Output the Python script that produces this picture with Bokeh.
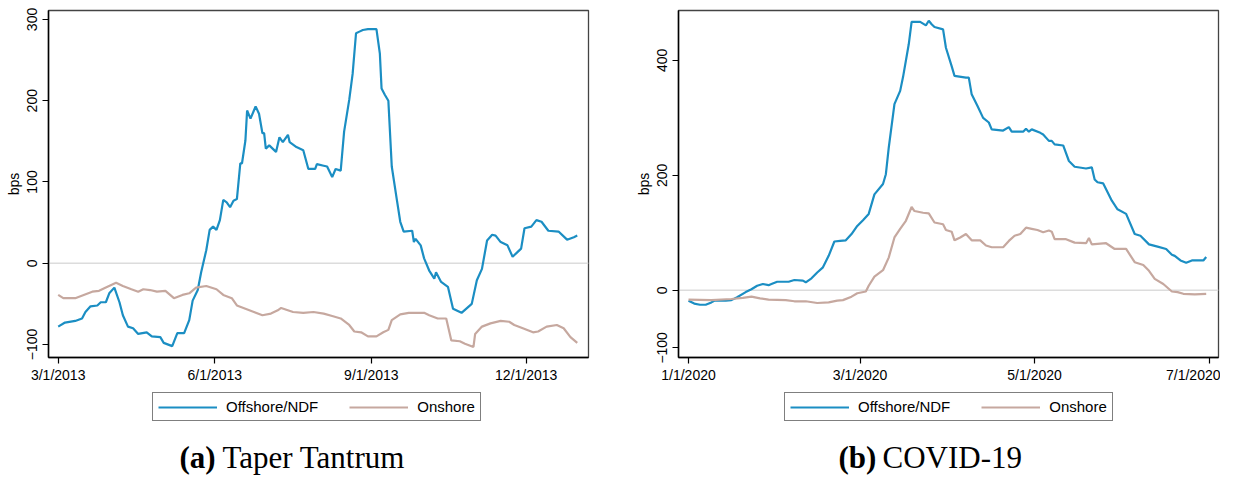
import pandas as pd
from bokeh.plotting import figure
from bokeh.models import Range1d, FixedTicker, Span, Legend, LegendItem, Label
from bokeh.layouts import row, column
from bokeh.embed import file_html
from bokeh.resources import INLINE

# ---------------- Data: Taper Tantrum (2013) ----------------
tt_off_dates = ["2013-03-01", "2013-03-05", "2013-03-11", "2013-03-15", "2013-03-17", "2013-03-20",
                "2013-03-24", "2013-03-26", "2013-03-29", "2013-03-31", "2013-04-03", "2013-04-06",
                "2013-04-08", "2013-04-11", "2013-04-14", "2013-04-17", "2013-04-22", "2013-04-25",
                "2013-04-30", "2013-05-02", "2013-05-07", "2013-05-10", "2013-05-14", "2013-05-17",
                "2013-05-19", "2013-05-22", "2013-05-24", "2013-05-27", "2013-05-29", "2013-05-31",
                "2013-06-02", "2013-06-04", "2013-06-06", "2013-06-08", "2013-06-10", "2013-06-12",
                "2013-06-14", "2013-06-16", "2013-06-17", "2013-06-19", "2013-06-20", "2013-06-22",
                "2013-06-24", "2013-06-25", "2013-06-27", "2013-06-29", "2013-06-30", "2013-07-01",
                "2013-07-03", "2013-07-07", "2013-07-09", "2013-07-11", "2013-07-14", "2013-07-15",
                "2013-07-19", "2013-07-23", "2013-07-26", "2013-07-30", "2013-07-31", "2013-08-04",
                "2013-08-06", "2013-08-09", "2013-08-11", "2013-08-14", "2013-08-16", "2013-08-19",
                "2013-08-21", "2013-08-23", "2013-08-25", "2013-08-27", "2013-08-30", "2013-09-04",
                "2013-09-06", "2013-09-07", "2013-09-09", "2013-09-11", "2013-09-13", "2013-09-16",
                "2013-09-18", "2013-09-20", "2013-09-25", "2013-09-26", "2013-09-27", "2013-09-30",
                "2013-10-02", "2013-10-05", "2013-10-08", "2013-10-09", "2013-10-12", "2013-10-16",
                "2013-10-19", "2013-10-24", "2013-10-30", "2013-11-02", "2013-11-05", "2013-11-08",
                "2013-11-11", "2013-11-13", "2013-11-16", "2013-11-20", "2013-11-23", "2013-11-26",
                "2013-11-28", "2013-11-30", "2013-12-04", "2013-12-07", "2013-12-10", "2013-12-14",
                "2013-12-20", "2013-12-25", "2013-12-29", "2013-12-31"]
tt_off_vals = [-78, -73, -71, -68, -60, -53,
               -52, -48, -48, -37, -30, -48,
               -64, -78, -80, -87, -85, -90,
               -91, -98, -102, -86, -86, -70,
               -46, -33, -11, 16, 41, 45,
               41, 53, 78, 75, 69, 77,
               79, 123, 123, 151, 188, 178,
               188, 193, 184, 160, 160, 141,
               145, 137, 155, 149, 158, 149,
               143, 139, 116, 116, 122, 120,
               119, 106, 116, 114, 162, 201,
               233, 283, 285, 287, 288, 288,
               258, 215, 207, 200, 119, 78,
               51, 39, 40, 26, 30, 22,
               6, -9, -19, -11, -23, -29,
               -56, -61, -50, -21, -7, 28,
               35, 34, 26, 22, 8, 14,
               18, 43, 45, 53, 51, 40,
               39, 29, 32, 34]

tt_on_dates = ["2013-03-01", "2013-03-04", "2013-03-11", "2013-03-16", "2013-03-21", "2013-03-25",
               "2013-03-29", "2013-04-04", "2013-04-08", "2013-04-13", "2013-04-17", "2013-04-20",
               "2013-04-24", "2013-04-28", "2013-05-03", "2013-05-08", "2013-05-13", "2013-05-17",
               "2013-05-21", "2013-05-27", "2013-06-02", "2013-06-06", "2013-06-11", "2013-06-14",
               "2013-06-19", "2013-06-24", "2013-06-29", "2013-07-04", "2013-07-08", "2013-07-10",
               "2013-07-17", "2013-07-23", "2013-07-29", "2013-08-04", "2013-08-09", "2013-08-14",
               "2013-08-19", "2013-08-22", "2013-08-26", "2013-08-30", "2013-09-04", "2013-09-08",
               "2013-09-11", "2013-09-13", "2013-09-18", "2013-09-23", "2013-10-02", "2013-10-05",
               "2013-10-10", "2013-10-15", "2013-10-18", "2013-10-23", "2013-10-26", "2013-10-31",
               "2013-11-01", "2013-11-05", "2013-11-10", "2013-11-16", "2013-11-21", "2013-11-24",
               "2013-11-29", "2013-12-05", "2013-12-08", "2013-12-13", "2013-12-19", "2013-12-23",
               "2013-12-27", "2013-12-31"]
tt_on_vals = [-39, -43, -43, -39, -35, -34,
              -30, -24, -28, -32, -35, -32,
              -33, -35, -34, -43, -39, -37,
              -30, -28, -32, -39, -43, -52,
              -56, -60, -64, -62, -58, -55,
              -60, -61, -60, -62, -65, -68,
              -76, -84, -85, -90, -90, -85,
              -82, -70, -63, -61, -61, -64,
              -68, -68, -95, -96, -99, -103,
              -87, -78, -74, -71, -72, -76,
              -80, -85, -84, -78, -76, -80,
              -91, -98]

# ---------------- Data: COVID-19 (2020) ----------------
cv_off_dates = ["2020-01-01", "2020-01-03", "2020-01-05", "2020-01-07", "2020-01-09", "2020-01-10",
                "2020-01-14", "2020-01-16", "2020-01-18", "2020-01-21", "2020-01-23", "2020-01-25",
                "2020-01-27", "2020-01-29", "2020-01-30", "2020-02-01", "2020-02-05", "2020-02-07",
                "2020-02-10", "2020-02-11", "2020-02-13", "2020-02-15", "2020-02-17", "2020-02-19",
                "2020-02-21", "2020-02-23", "2020-02-25", "2020-02-27", "2020-02-29", "2020-03-02",
                "2020-03-04", "2020-03-06", "2020-03-09", "2020-03-10", "2020-03-11", "2020-03-13",
                "2020-03-15", "2020-03-16", "2020-03-18", "2020-03-19", "2020-03-22", "2020-03-23",
                "2020-03-24", "2020-03-25", "2020-03-26", "2020-03-27", "2020-03-30", "2020-03-31",
                "2020-04-02", "2020-04-03", "2020-04-07", "2020-04-08", "2020-04-09", "2020-04-11",
                "2020-04-13", "2020-04-15", "2020-04-16", "2020-04-20", "2020-04-22", "2020-04-23",
                "2020-04-27", "2020-04-28", "2020-04-29", "2020-04-30", "2020-05-03", "2020-05-04",
                "2020-05-06", "2020-05-07", "2020-05-08", "2020-05-11", "2020-05-13", "2020-05-15",
                "2020-05-19", "2020-05-21", "2020-05-22", "2020-05-23", "2020-05-25", "2020-05-28",
                "2020-05-30", "2020-06-02", "2020-06-05", "2020-06-07", "2020-06-10", "2020-06-13",
                "2020-06-16", "2020-06-18", "2020-06-19", "2020-06-21", "2020-06-23", "2020-06-25",
                "2020-06-29", "2020-06-30"]
cv_off_vals = [-18, -23, -25, -25, -21, -18,
               -18, -17, -12, -3, 2, 8,
               11, 9, 11, 15, 15, 18,
               17, 14, 21, 31, 40, 60,
               85, 86, 87, 98, 112, 122,
               133, 167, 185, 202, 248, 324,
               347, 371, 428, 467, 467, 464,
               461, 469, 463, 458, 454, 422,
               390, 373, 370, 370, 341, 321,
               300, 292, 280, 278, 284, 276,
               276, 281, 276, 280, 274, 271,
               260, 260, 254, 252, 225, 215,
               212, 214, 193, 188, 186, 156,
               141, 133, 98, 95, 80, 76,
               72, 62, 60, 52, 48, 52,
               52, 58]

cv_on_dates = ["2020-01-01", "2020-01-09", "2020-01-16", "2020-01-20", "2020-01-23", "2020-01-26",
               "2020-01-29", "2020-02-04", "2020-02-07", "2020-02-11", "2020-02-15", "2020-02-19",
               "2020-02-22", "2020-02-24", "2020-02-27", "2020-02-29", "2020-03-03", "2020-03-04",
               "2020-03-06", "2020-03-09", "2020-03-11", "2020-03-13", "2020-03-15", "2020-03-17",
               "2020-03-19", "2020-03-20", "2020-03-23", "2020-03-25", "2020-03-27", "2020-03-30",
               "2020-03-31", "2020-04-02", "2020-04-03", "2020-04-05", "2020-04-07", "2020-04-09",
               "2020-04-12", "2020-04-14", "2020-04-16", "2020-04-20", "2020-04-22", "2020-04-24",
               "2020-04-26", "2020-04-28", "2020-04-30", "2020-05-02", "2020-05-04", "2020-05-06",
               "2020-05-07", "2020-05-08", "2020-05-12", "2020-05-15", "2020-05-19", "2020-05-20",
               "2020-05-21", "2020-05-26", "2020-05-29", "2020-06-02", "2020-06-05", "2020-06-08",
               "2020-06-10", "2020-06-12", "2020-06-15", "2020-06-18", "2020-06-20", "2020-06-22",
               "2020-06-26", "2020-06-30"]
cv_on_vals = [-16, -17, -15, -13, -11, -14,
              -16, -17, -19, -19, -22, -21,
              -18, -17, -11, -5, -2, 8,
              24, 35, 57, 92, 107, 121,
              145, 138, 135, 134, 118, 115,
              105, 102, 87, 92, 98, 87,
              87, 78, 75, 75, 86, 95,
              98, 109, 107, 105, 101, 104,
              102, 89, 89, 83, 82, 91,
              80, 82, 72, 72, 49, 44,
              34, 20, 11, -2, -3, -6,
              -7, -6]

series_labels = ["Offshore/NDF", "Onshore"]
tt_xticks = ["2013-03-01", "2013-06-01", "2013-09-01", "2013-12-01"]
cv_xticks = ["2020-01-01", "2020-03-01", "2020-05-01", "2020-07-01"]
tt_yticks = [-100, 0, 100, 200, 300]
cv_yticks = [-100, 0, 200, 400]
captions = [("(a)", "Taper Tantrum"), ("(b)", "COVID-19")]

BLUE = "#1b8ec3"
ROSE = "#c6a89f"
DAY = 86400000.0
FONT = "Liberation Sans"
MAIN_H = 385
FOOT_H = 92


def ms(s):
    return pd.Timestamp(s).value / 1e6


def lab(s):
    t = pd.Timestamp(s)
    return f"{t.month}/{t.day}/{t.year}"


def panel(off_d, off_v, on_d, on_v, xticks, yticks, x0, x1, y0, y1,
          width, left_border, right_border, cap, cap_x, legend_x):
    p = figure(width=width, height=MAIN_H, x_range=Range1d(x0, x1), y_range=Range1d(y0, y1),
               toolbar_location=None, output_backend="svg",
               min_border_left=left_border, min_border_right=right_border,
               min_border_top=10, min_border_bottom=MAIN_H - 357)
    p.xgrid.visible = False
    p.ygrid.visible = False
    p.background_fill_color = "white"
    p.border_fill_color = "white"
    p.outline_line_color = "#444444"
    p.outline_line_width = 1.3

    zero = Span(location=0, dimension="width", line_color="#dcdcdc", line_width=1.5, level="underlay")
    p.add_layout(zero)

    off_x = [ms(d) for d in off_d]
    on_x = [ms(d) for d in on_d]
    p.line(off_x, off_v, line_color=BLUE, line_width=2.2)
    p.line(on_x, on_v, line_color=ROSE, line_width=2.2)

    p.xaxis.ticker = FixedTicker(ticks=[ms(t) for t in xticks])
    p.xaxis.major_label_overrides = {ms(t): lab(t) for t in xticks}
    p.yaxis.ticker = FixedTicker(ticks=yticks)
    for ax in (p.xaxis, p.yaxis):
        ax.axis_line_color = "black"
        ax.axis_line_width = 1.5
        ax.major_tick_line_color = "black"
        ax.major_tick_line_width = 1.2
        ax.major_tick_out = 6
        ax.major_tick_in = 0
        ax.minor_tick_line_color = None
        ax.major_label_text_font = FONT
        ax.major_label_text_color = "black"
    p.xaxis.major_label_text_font_size = "14px"
    p.xaxis.major_label_standoff = 3
    p.yaxis.major_label_text_font_size = "14px"
    p.yaxis.major_label_orientation = "vertical"
    p.yaxis.major_label_standoff = 5
    p.yaxis.axis_label = "bps"
    p.yaxis.axis_label_text_font = FONT
    p.yaxis.axis_label_text_font_size = "14px"
    p.yaxis.axis_label_text_font_style = "normal"
    p.yaxis.axis_label_text_color = "black"
    p.yaxis.axis_label_standoff = 3

    # footer: legend and caption (legend lines reuse the series, outside the footer's view)
    f = figure(width=width, height=FOOT_H, x_range=Range1d(0, 1), y_range=Range1d(0, 1),
               toolbar_location=None, output_backend="svg",
               min_border_left=left_border, min_border_right=right_border,
               min_border_top=0, min_border_bottom=0,
               x_axis_location=None, y_axis_location=None)
    f.xgrid.visible = False
    f.ygrid.visible = False
    f.outline_line_color = None
    f.background_fill_color = "white"
    f.border_fill_color = "white"
    g1 = f.line(off_x, off_v, line_color=BLUE, line_width=2.2)
    g2 = f.line(on_x, on_v, line_color=ROSE, line_width=2.2)
    legend = Legend(items=[LegendItem(label=series_labels[0], renderers=[g1]),
                           LegendItem(label=series_labels[1], renderers=[g2])],
                    orientation="horizontal", location=(legend_x, 56),
                    glyph_width=59, glyph_height=16, label_standoff=9, spacing=31,
                    padding=5, margin=0,
                    label_text_font=FONT, label_text_font_size="15px", label_text_color="black",
                    border_line_color="black", border_line_width=1, background_fill_color="white")
    f.add_layout(legend, "center")
    f.add_layout(Label(x=cap_x[0], y=3, x_units="screen", y_units="screen", text=cap[0],
                       text_font="Liberation Serif", text_font_size="31px", text_font_style="bold",
                       text_color="black", text_baseline="bottom"))
    f.add_layout(Label(x=cap_x[1], y=3, x_units="screen", y_units="screen", text=cap[1],
                       text_font="Liberation Serif", text_font_size="31px",
                       text_color="black", text_baseline="bottom"))
    return column(p, f, spacing=0)


left = panel(tt_off_dates, tt_off_vals, tt_on_dates, tt_on_vals, tt_xticks, tt_yticks,
             ms("2013-03-01") - 5.7 * DAY, ms("2013-12-01") + 36.6 * DAY, -116, 311,
             618, 48, 30, captions[0], (131, 174), 104)
right = panel(cv_off_dates, cv_off_vals, cv_on_dates, cv_on_vals, cv_xticks, cv_yticks,
              ms("2020-01-01") - 3.5 * DAY, ms("2020-07-01") + 3.3 * DAY, -116.8, 486.8,
              602, 60, 2, captions[1], (160, 204), 106)

layout = row(left, right, spacing=0)
open("out.html", "w").write(file_html(layout, INLINE))
